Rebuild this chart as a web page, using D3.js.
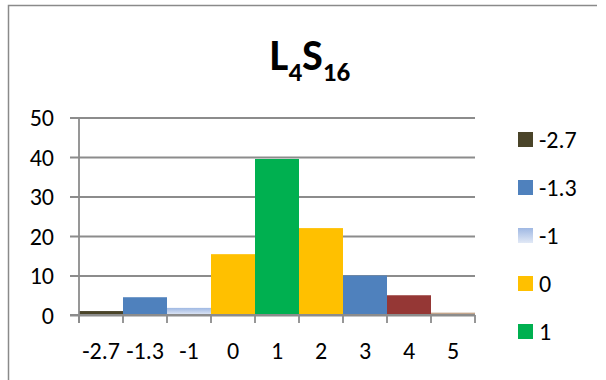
<!DOCTYPE html>
<html>
<head>
<meta charset="utf-8">
<script src="https://cdn.jsdelivr.net/npm/d3@7"></script>
<style>
  html, body { margin: 0; padding: 0; background: #fff; }
  svg { display: block; }
  text { font-family: Carlito, Calibri, Lato, "Liberation Sans", sans-serif; fill: #000; }
</style>
</head>
<body>
<svg id="chart" width="606" height="380"></svg>
<script>
// Histogram of L4S16 values: one bar per bin, bars touching
const categories = ["-2.7", "-1.3", "-1", "0", "1", "2", "3", "4", "5"];
const counts     = [1.0, 4.5, 1.8, 15.4, 39.5, 22.0, 10.0, 5.0, 0.6];
const barColors  = ["#4a4429", "#4f81bd", "url(#lightBlue)", "#ffc000", "#00b050",
                    "#ffc000", "#4f81bd", "#953735", "#c4a68c"];
const yTicks     = [0, 10, 20, 30, 40, 50];
// Legend entries as far as they fit in the frame
const legendLabels = ["-2.7", "-1.3", "-1", "0", "1"];
const legendColors = ["#4a4429", "#4f81bd", "url(#lightBlueLegend)", "#ffc000", "#00b050"];

const svg = d3.select("#chart");
const plot = { left: 79, right: 475, top: 117.5, bottom: 315 };
const labelFont = "24px";

const defs = svg.append("defs");
function grad(id) {
  const g = defs.append("linearGradient").attr("id", id)
    .attr("x1", 0).attr("y1", 0).attr("x2", 0).attr("y2", 1);
  g.append("stop").attr("offset", "0%").attr("stop-color", "#9fb8e3");
  g.append("stop").attr("offset", "100%").attr("stop-color", "#e2e9f6");
}
grad("lightBlue");
grad("lightBlueLegend");

const x = d3.scaleBand().domain(categories).range([plot.left, plot.right]).padding(0);
const y = d3.scaleLinear().domain([0, 50]).range([plot.bottom, plot.top]);

// outer frame (left and top edges)
svg.append("path")
  .attr("d", "M8.5,380 L8.5,5.5 L597,5.5")
  .attr("fill", "none").attr("stroke", "#8a8a8a").attr("stroke-width", 1.5);

// title L4S16
const title = svg.append("text")
  .attr("x", 310).attr("y", 70)
  .attr("text-anchor", "middle")
  .style("font-weight", "900").style("font-size", "44px");
title.append("tspan").text("L");
title.append("tspan").text("4").attr("dy", 11).style("font-size", "27px");
title.append("tspan").text("S").attr("dy", -11);
title.append("tspan").text("16").attr("dy", 11).style("font-size", "27px");

// gridlines with left tick marks
const yAxis = d3.axisLeft(y).tickValues(yTicks).tickSizeInner(0).tickSizeOuter(0).tickPadding(0);
const gy = svg.append("g").attr("transform", `translate(${plot.left},0)`).call(yAxis);
gy.select(".domain").remove();
gy.selectAll(".tick line")
  .attr("x1", -9).attr("x2", plot.right - plot.left)
  .attr("stroke", "#8c8c8c").attr("stroke-width", 1.8);
gy.selectAll(".tick text")
  .attr("x", -25).attr("dy", "0.35em")
  .style("font-size", labelFont).attr("fill", "#000")
  .style("font-family", "Carlito, Calibri, Lato, 'Liberation Sans', sans-serif");

// bars
svg.append("g").selectAll("rect")
  .data(categories.map((c, i) => ({ c, v: counts[i], color: barColors[i] })))
  .join("rect")
  .attr("x", d => x(d.c))
  .attr("width", x.bandwidth())
  .attr("y", d => y(d.v))
  .attr("height", d => y(0) - y(d.v))
  .attr("fill", d => d.color);

// y axis line
svg.append("line")
  .attr("x1", plot.left).attr("x2", plot.left)
  .attr("y1", plot.top).attr("y2", plot.bottom + 8)
  .attr("stroke", "#8c8c8c").attr("stroke-width", 1.8);

// x axis baseline, ticks at bin boundaries
svg.append("line")
  .attr("x1", plot.left - 9).attr("x2", plot.right)
  .attr("y1", plot.bottom).attr("y2", plot.bottom)
  .attr("stroke", "#8c8c8c").attr("stroke-width", 1.8);
const bounds = categories.map(c => x(c)).concat([x(categories[categories.length - 1]) + x.bandwidth()]);
svg.append("g").selectAll("line").data(bounds).join("line")
  .attr("x1", d => d).attr("x2", d => d)
  .attr("y1", plot.bottom).attr("y2", plot.bottom + 8)
  .attr("stroke", "#8c8c8c").attr("stroke-width", 1.8);

const xAxis = d3.axisBottom(x).tickSize(0).tickPadding(0);
const gx = svg.append("g").attr("transform", `translate(0,${plot.bottom})`).call(xAxis);
gx.select(".domain").remove();
gx.selectAll(".tick line").remove();
gx.selectAll(".tick text")
  .attr("y", 35.5).attr("dy", "0.35em")
  .style("font-size", labelFont).attr("fill", "#000")
  .style("font-family", "Carlito, Calibri, Lato, 'Liberation Sans', sans-serif");

// legend
const legend = svg.append("g").selectAll("g")
  .data(legendLabels.map((l, i) => ({ l, color: legendColors[i] })))
  .join("g")
  .attr("transform", (d, i) => `translate(518,${139.5 + i * 48})`);
legend.append("rect")
  .attr("x", 0).attr("y", -7.5).attr("width", 15).attr("height", 15)
  .attr("fill", d => d.color);
legend.append("text")
  .attr("x", 21).attr("dy", "0.35em")
  .style("font-size", labelFont)
  .text(d => d.l);
</script>
</body>
</html>
